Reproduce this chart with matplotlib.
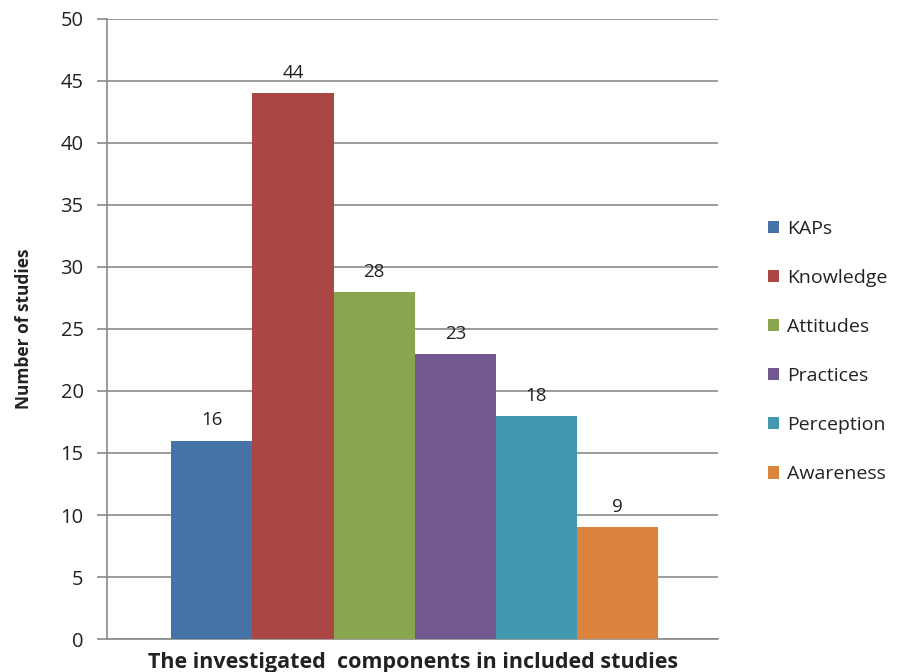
import matplotlib
matplotlib.use("Agg")
import matplotlib.pyplot as plt
import numpy as np

# data
components = ["KAPs", "Knowledge", "Attitudes", "Practices", "Perception", "Awareness"]
studies = [16, 44, 28, 23, 18, 9]
colors = ["#4572A7", "#AA4643", "#89A54E", "#71588F", "#4198AF", "#DB843D"]
yticks = list(range(0, 55, 5))

plt.rcParams["font.family"] = ["Open Sans", "DejaVu Sans"]
GRID = "#8a8a8a"
TEXT = "#222222"

fig = plt.figure(figsize=(9.08, 6.72), dpi=100)
ax = fig.add_axes([0.118, 0.049, 0.673, 0.923])

x = np.arange(len(components))
for i, (name, v, c) in enumerate(zip(components, studies, colors)):
    ax.bar(x[i], v, width=1.0, color=c, label=name, zorder=3)
    ax.annotate(str(v), (x[i], v), xytext=(0, 8), textcoords="offset points",
                ha="center", va="bottom", fontsize=13.5, color=TEXT)

ax.set_xlim(-1.29, 6.24)
ax.set_ylim(0, 50)
ax.set_yticks(yticks)
ax.set_xticks([])
ax.tick_params(axis="y", length=7, width=1.2, color=GRID, labelsize=14.5,
               labelcolor=TEXT, pad=10)
ax.grid(axis="y", color=GRID, linewidth=1.2, zorder=0)
for s in ["top", "right"]:
    ax.spines[s].set_visible(False)
for s in ["left", "bottom"]:
    ax.spines[s].set_color(GRID)
    ax.spines[s].set_linewidth(1.2)

ax.set_ylabel("Number of studies", fontsize=12.5, fontweight="bold",
              color=TEXT, labelpad=20)
ax.set_xlabel("The investigated  components in included studies", fontsize=15.5,
              fontweight="bold", color=TEXT, labelpad=9)

fig.legend(loc="center left", bbox_to_anchor=(0.826, 0.477), frameon=False,
           fontsize=14, labelspacing=1.6, handlelength=0.6, handleheight=0.6,
           handletextpad=0.4, labelcolor=TEXT)

fig.savefig("out.png", dpi=100, facecolor="white")
